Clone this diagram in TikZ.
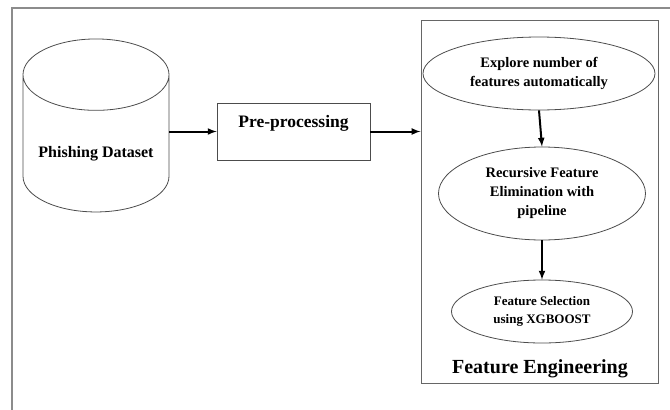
\documentclass[tikz,border=0pt]{standalone}
\usepackage{fontspec}
\setmainfont{Liberation Serif}
\usetikzlibrary{shapes.geometric, arrows, positioning}

\tikzset{
  stage/.style={ellipse, draw=black!70, line width=0.8pt, inner sep=0pt, align=center, font=\bfseries\fontsize{14.5}{19}\selectfont},
  flow/.style={-latex, line width=2pt},
}

\begin{document}
\begin{tikzpicture}[x=1pt, y=-1pt]
\useasboundingbox (0,0) rectangle (670,410);
% outer frame
\draw[black!45, line width=1.2pt] (12,412) -- (12,8) -- (672,8);

\node[cylinder, shape border rotate=90, aspect=0.62, draw=black!70, line width=0.8pt, minimum width=146pt, minimum height=173pt, inner sep=0pt, text height=28pt, text depth=0pt, font=\bfseries\fontsize{16}{19}\selectfont] (data) at (96,143.5) {Phishing Dataset};

\node[draw=black!70, line width=0.8pt, minimum width=153pt, inner sep=0pt, text height=24pt, text depth=33pt, font=\bfseries\fontsize{17.5}{20}\selectfont] (prep) at (293.5,131.5) {Pre-processing};

% feature engineering block
\node[draw=black!60, line width=1pt, minimum width=237pt, minimum height=363pt, inner sep=0pt] (fe) at (539.5,201.5) {};
\node[stage, minimum width=232pt, minimum height=73pt] (explore) at (539,73.5) {Explore number of\\features automatically};
\node[stage, minimum width=207pt, minimum height=93pt] (rfe) at (542,193.5) {Recursive Feature\\Elimination with\\pipeline};
\node[stage, minimum width=181pt, minimum height=63pt, font=\bfseries\fontsize{13}{18}\selectfont] (xgb) at (542,311.5) {Feature Selection\\using XGBOOST};
\node[font=\bfseries\fontsize{20}{24}\selectfont] (fetitle) at (540,369) {Feature Engineering};

\draw[flow] (data.east |- prep.west) -- (prep.west);
\draw[flow] (prep.east) -- (prep.east -| fe.west);
\draw[flow] (explore.south) -- (rfe.north);
\draw[flow] (rfe.south) -- (xgb.north);

\end{tikzpicture}
\end{document}
